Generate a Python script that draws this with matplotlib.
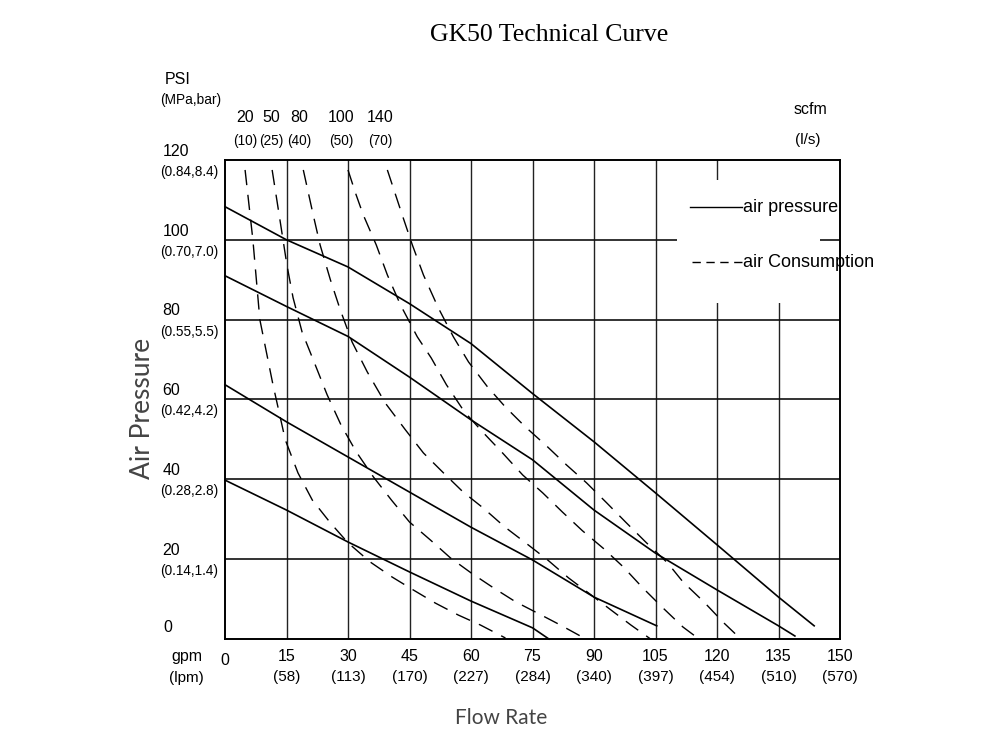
import numpy as np
import matplotlib.pyplot as plt
from matplotlib.patches import Rectangle

# air pressure curves (solid), x = gpm, y = psi
p1_x = [0, 15, 30, 45, 60, 75, 90, 105, 120, 135, 143.7]
p1_y = [108.3, 100, 93.2, 84, 74, 61.5, 49.4, 36.6, 23.6, 10.5, 3.3]
p2_x = [0, 15, 30, 45, 60, 75, 90, 105, 120, 135, 139]
p2_y = [91, 83.3, 75.8, 65.6, 54.9, 44.9, 32.3, 21.5, 12.3, 3.3, 0.75]
p3_x = [0, 15, 30, 45, 60, 75, 90, 105.3]
p3_y = [63.7, 54.4, 45.6, 36.8, 28, 19.8, 10.5, 3.3]
p4_x = [0, 15, 30, 45, 60, 75, 79]
p4_y = [39.8, 32.3, 24.3, 16.8, 9.5, 2.8, 0]

# air consumption curves (dashed): 20, 50, 80, 100, 140 scfm
c20_x = [4.9, 6.8, 8.5, 11.7, 14.7, 17.8, 21.3, 25.7, 30.0, 35.4, 40.8, 45.9, 51.3, 56.9, 62.3, 68.4]
c20_y = [117.5, 100, 80, 63.7, 49.9, 41.6, 34.8, 29.1, 24.1, 19.3, 15.5, 12.3, 9.0, 6.0, 3.5, 0.25]
c50_x = [11.5, 13.4, 15.1, 16.6, 18.8, 22.0, 24.9, 28.3, 32.0, 36.2, 40.6, 45.0, 50.1, 55.0, 60.1, 65.5, 70.9, 76.2, 81.8, 88]
c50_y = [117.5, 105, 93.7, 85.5, 76.9, 68.7, 61.2, 53.6, 46.9, 40.6, 34.8, 29.3, 24.8, 20.3, 16.5, 12.8, 9.3, 6.5, 3.5, 0]
c80_x = [19.1, 21.5, 23.2, 25.7, 28.1, 31.0, 34.7, 39.1, 44.0, 48.4, 53.3, 58.1, 63.0, 68.2, 73.3, 78.7, 83.8, 88.7, 94.1, 99.0, 103.8]
c80_y = [117.5, 106.3, 98.7, 90, 82.5, 74.4, 66.9, 59.1, 52.4, 46.6, 41.6, 36.8, 32.8, 28.1, 24.1, 19.8, 15.3, 11.5, 7.3, 3.5, 0]
c100_x = [30.0, 31.8, 33.7, 36.9, 39.6, 42.8, 46.9, 50.3, 54.0, 58.4, 62.8, 67.7, 72.6, 77.5, 82.3, 87.2, 92.4, 97.2, 101.9, 106.8, 111.7, 115.6]
c100_y = [117.5, 111.8, 106.3, 98.7, 91.2, 83.7, 75.7, 70.4, 63.7, 56.9, 51.9, 46.6, 41.1, 36.6, 31.8, 27.1, 22.6, 18.0, 12.8, 7.8, 3.0, 0]
c140_x = [39.6, 43.2, 45.7, 48.4, 52.0, 55.7, 59.4, 64.0, 68.4, 73.3, 78.4, 83.3, 88.2, 93.1, 97.7, 102.6, 108.0, 111.7, 116.8, 121.7, 125.8]
c140_y = [117.5, 106.3, 98.7, 91.2, 83.0, 75.7, 69.4, 63.2, 58.1, 53.1, 48.4, 43.6, 39.1, 34.1, 29.3, 24.3, 19.0, 14.3, 9.3, 4.0, 0]

gpm_ticks = [15, 30, 45, 60, 75, 90, 105, 120, 135, 150]
lpm_labels = ["(58)", "(113)", "(170)", "(227)", "(284)", "(340)", "(397)", "(454)", "(510)", "(570)"]
psi_ticks = [20, 40, 60, 80, 100, 120]
mpa_labels = ["(0.14,1.4)", "(0.28,2.8)", "(0.42,4.2)", "(0.55,5.5)", "(0.70,7.0)", "(0.84,8.4)"]
scfm_labels = ["20", "50", "80", "100", "140"]
ls_labels = ["(10)", "(25)", "(40)", "(50)", "(70)"]
scfm_label_x = [4.9, 11.2, 18.0, 28.3, 37.8]

NUM_FONT = ["Liberation Sans", "DejaVu Sans"]
LBL_FONT = ["Lato", "DejaVu Sans"]
FS = 11.5      # plain numbers
FS_P = 9.8     # bracketed labels that sit close together

fig = plt.figure(figsize=(10, 7.5), dpi=100)
ax = fig.add_axes([0.225, 0.148, 0.615, 0.6387])
ax.set_xlim(0, 150)
ax.set_ylim(0, 120)
ax.set_xticks([])
ax.set_yticks([])
for sp in ax.spines.values():
    sp.set_linewidth(1.4)
    sp.set_zorder(6)

for gx in gpm_ticks[:-1]:
    ax.axvline(gx, color="#222222", lw=1.0, zorder=1)
for gy in psi_ticks[:-1]:
    ax.axhline(gy, color="#111111", lw=1.2, zorder=1)

# white area behind the legend
ax.add_patch(Rectangle((110.2, 84.2), 34.9, 30.8, facecolor="white", edgecolor="none", zorder=2))
ax.add_patch(Rectangle((130, 84.2), 10, 36, facecolor="white", edgecolor="none", zorder=2))

for xs, ys in [(p1_x, p1_y), (p2_x, p2_y), (p3_x, p3_y), (p4_x, p4_y)]:
    ax.plot(xs, ys, color="black", lw=1.2, zorder=3, clip_on=False)

for xs, ys in [(c20_x, c20_y), (c50_x, c50_y), (c80_x, c80_y), (c100_x, c100_y), (c140_x, c140_y)]:
    ax.plot(xs, ys, color="black", lw=1.0, linestyle=(0, (11, 7)), zorder=3)

# legend
ax.plot([113.3, 126.0], [108.3, 108.3], color="black", lw=1.0, zorder=4)
ax.text(126.4, 108.0, "air pressure", fontsize=13, family=NUM_FONT, va="center", ha="left", zorder=5)
ax.plot([113.8, 126.0], [94.5, 94.5], color="black", lw=1.0, linestyle=(0, (6, 4)), zorder=4)
ax.text(126.4, 94.2, "air Consumption", fontsize=13, family=NUM_FONT, va="center", ha="left",
        zorder=5, clip_on=False)

# y axis labels
ax.text(-15.1, 2.8, "0", fontsize=FS, family=NUM_FONT, ha="left", va="center", clip_on=False)
for v, lab in zip(psi_ticks, mpa_labels):
    ax.text(-15.3, v + 2.2, str(v), fontsize=FS, family=NUM_FONT, ha="left", va="center", clip_on=False)
    ax.text(-15.9, v - 3.0, lab, fontsize=FS_P, family=NUM_FONT, ha="left", va="center", clip_on=False)
ax.text(-14.8, 140.2, "PSI", fontsize=FS, family=NUM_FONT, ha="left", va="center", clip_on=False)
ax.text(-15.9, 135.0, "(MPa,bar)", fontsize=FS_P, family=NUM_FONT, ha="left", va="center", clip_on=False)

# x axis labels
ax.text(0, -5.3, "0", fontsize=FS, family=NUM_FONT, ha="center", va="center", clip_on=False)
for v, lab in zip(gpm_ticks, lpm_labels):
    ax.text(v, -4.3, str(v), fontsize=FS, family=NUM_FONT, ha="center", va="center", clip_on=False)
    ax.text(v, -9.6, lab, fontsize=11, family=NUM_FONT, ha="center", va="center", clip_on=False)
ax.text(-9.3, -4.3, "gpm", fontsize=FS, family=NUM_FONT, ha="center", va="center", clip_on=False)
ax.text(-9.3, -9.8, "(lpm)", fontsize=11, family=NUM_FONT, ha="center", va="center", clip_on=False)

# top scfm labels
for xv, a, b in zip(scfm_label_x, scfm_labels, ls_labels):
    ax.text(xv, 130.6, a, fontsize=FS, family=NUM_FONT, ha="center", va="center", clip_on=False)
    ax.text(xv, 124.8, b, fontsize=FS_P, family=NUM_FONT, ha="center", va="center", clip_on=False)
ax.text(142.7, 132.6, "scfm", fontsize=FS, family=NUM_FONT, ha="center", va="center", clip_on=False)
ax.text(142.2, 125.0, "(l/s)", fontsize=11, family=NUM_FONT, ha="center", va="center", clip_on=False)

fig.text(0.143, 0.456, "Air Pressure", rotation=90, fontsize=19, family=LBL_FONT,
         color="#444444", ha="center", va="center")
fig.text(0.501, 0.043, "Flow Rate", fontsize=15, family=LBL_FONT, color="#444444",
         ha="center", va="center")
fig.text(0.549, 0.953, "GK50 Technical Curve", fontsize=18.5,
         family=["Liberation Serif", "DejaVu Serif"], ha="center", va="center")

fig.savefig("out.png", dpi=100, facecolor="white")
